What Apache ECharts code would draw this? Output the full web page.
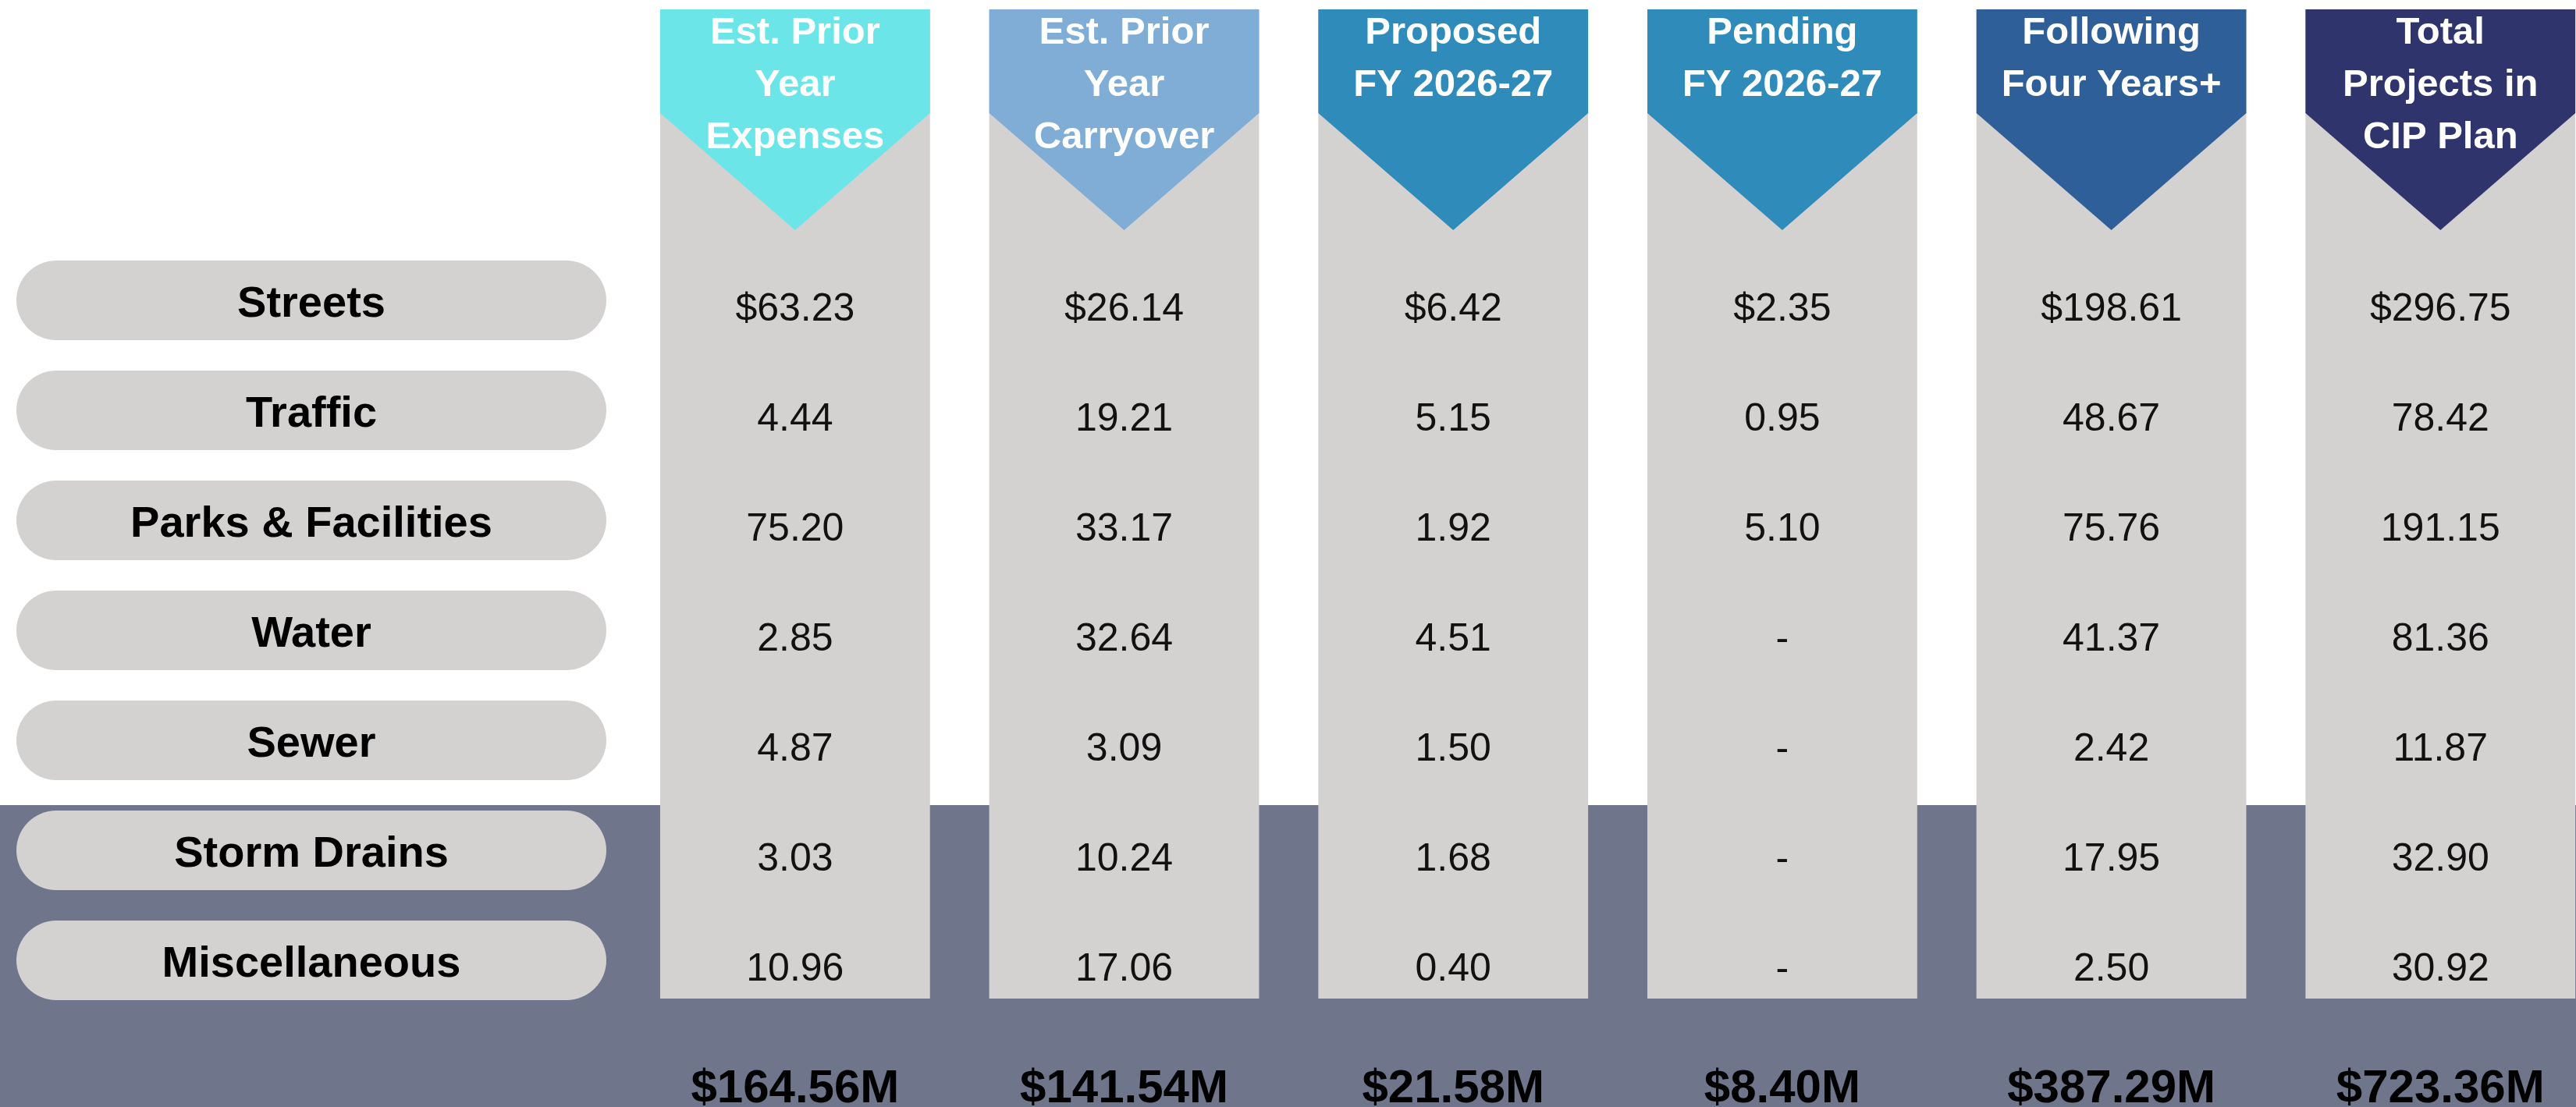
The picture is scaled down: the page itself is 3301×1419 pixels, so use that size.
<!DOCTYPE html>
<html>
<head>
<meta charset="utf-8">
<title>CIP Plan Summary</title>
<script src="https://cdn.jsdelivr.net/npm/echarts@6/dist/echarts.min.js"></script>
<style>
  html, body { margin: 0; padding: 0; background: #fff; }
  #chart { width: 3301px; height: 1419px; }
</style>
</head>
<body>
<div id="chart"></div>
<script>
// rows
var categories = ['Streets', 'Traffic', 'Parks & Facilities', 'Water', 'Sewer', 'Storm Drains', 'Miscellaneous']
// column headers, broken like the original
var columns = ['Est. Prior\nYear\nExpenses', 'Est. Prior\nYear\nCarryover', 'Proposed\nFY 2026-27', 'Pending\nFY 2026-27', 'Following\nFour Years+', 'Total\nProjects in\nCIP Plan']
var headerColors = ['#6ce5e8', '#7fadd6', '#2e8bba', '#2e8bba', '#2f5f98', '#2f346c']

// $M per row, null shows as "-"
var priorExpenses = [63.23, 4.44, 75.20, 2.85, 4.87, 3.03, 10.96]
var priorCarryover = [26.14, 19.21, 33.17, 32.64, 3.09, 10.24, 17.06]
var proposed = [6.42, 5.15, 1.92, 4.51, 1.50, 1.68, 0.40]
var pending = [2.35, 0.95, 5.10, null, null, null, null]
var followingYears = [198.61, 48.67, 75.76, 41.37, 2.42, 17.95, 2.50]
var totalProjects = [296.75, 78.42, 191.15, 81.36, 11.87, 32.90, 30.92]
var columnTotals = [164.56, 141.54, 21.58, 8.40, 387.29, 723.36]

// dark band starts at this row
var shadedFrom = 'Storm Drains'

var valueColumns = [priorExpenses, priorCarryover, proposed, pending, followingYears, totalProjects]
var FONT = '"Liberation Sans", Arial, sans-serif'
var GRAY = '#d4d1d1'

var chart = echarts.init(document.getElementById('chart'))

function fmt(v, row) {
	if (v == null) return '-'
	return (row === 0 ? '$' : '') + v.toFixed(2)
}

var cellData = []
valueColumns.forEach(function (col, ci) {
	col.forEach(function (v, ri) {
		cellData.push([ci, ri])
	})
})

chart.setOption({
	animation: false,
	grid: { left: 808, right: 0, top: 314.5, height: 987 },
	// last column runs off the right edge, so the x range stops a bit short of 5.5
	xAxis: { type: 'value', min: -0.5, max: 5.412, show: false },
	yAxis: { type: 'category', data: categories, inverse: true, show: false },
	series: [
		{
			// dark band behind the last rows
			type: 'custom',
			z: 1,
			data: [[0, categories.indexOf(shadedFrom)]],
			renderItem: function (params, api) {
				var y = api.coord([0, api.value(1)])[1] - 58
				return {
					type: 'rect',
					shape: { x: 0, y: y, width: api.getWidth(), height: api.getHeight() - y },
					style: { fill: '#6f758a' },
				}
			},
		},
		{
			// gray columns + chevron headers
			type: 'custom',
			z: 2,
			clip: false,
			data: columns.map(function (c, i) { return [i, 0] }),
			renderItem: function (params, api) {
				var ci = api.value(0)
				var cx = api.coord([ci, 0])[0]
				var w = api.size([1, 0])[0] * 0.82
				var x0 = cx - w / 2
				var x1 = cx + w / 2
				var bottom = api.coord([ci, categories.length - 1])[1] + 49
				return {
					type: 'group',
					children: [
						{
							type: 'rect',
							shape: { x: x0, y: 12, width: w, height: bottom - 12 },
							style: { fill: GRAY },
						},
						{
							type: 'polygon',
							shape: { points: [[x0, 12], [x1, 12], [x1, 145], [cx, 295], [x0, 145]] },
							style: { fill: headerColors[ci] },
						},
						{
							type: 'text',
							style: {
								text: columns[ci],
								x: cx,
								y: 9,
								align: 'center',
								verticalAlign: 'top',
								lineHeight: 67,
								fill: '#fff',
								font: 'bold 49px ' + FONT,
							},
						},
					],
				}
			},
		},
		{
			// row label pills
			type: 'custom',
			z: 3,
			data: categories.map(function (c, i) { return [0, i] }),
			renderItem: function (params, api) {
				var ri = api.value(1)
				var y = api.coord([0, ri])[1]
				var right = params.coordSys.x - 31
				return {
					type: 'group',
					children: [
						{
							type: 'rect',
							shape: { x: 21, y: y - 51, width: right - 21, height: 102, r: 51 },
							style: { fill: GRAY },
						},
						{
							type: 'text',
							style: {
								text: categories[ri],
								x: (21 + right) / 2,
								y: y + 6,
								align: 'center',
								verticalAlign: 'middle',
								fill: '#000',
								font: 'bold 56px ' + FONT,
							},
						},
					],
				}
			},
		},
		{
			// cell values
			type: 'custom',
			z: 4,
			data: cellData,
			renderItem: function (params, api) {
				var ci = api.value(0)
				var ri = api.value(1)
				var p = api.coord([ci, ri])
				return {
					type: 'text',
					style: {
						text: fmt(valueColumns[ci][ri], ri),
						x: p[0],
						y: p[1] + 12,
						align: 'center',
						verticalAlign: 'middle',
						fill: '#111',
						font: '50px ' + FONT,
					},
				}
			},
		},
		{
			// column totals
			type: 'custom',
			z: 4,
			clip: false,
			data: columnTotals.map(function (v, i) { return [i, v] }),
			renderItem: function (params, api) {
				var ci = api.value(0)
				var p = api.coord([ci, categories.length - 1])
				return {
					type: 'text',
					style: {
						text: '$' + columnTotals[ci].toFixed(2) + 'M',
						x: p[0],
						y: p[1] + 165,
						align: 'center',
						verticalAlign: 'middle',
						fill: '#000',
						font: 'bold 60px ' + FONT,
					},
				}
			},
		},
	],
})
</script>
</body>
</html>
